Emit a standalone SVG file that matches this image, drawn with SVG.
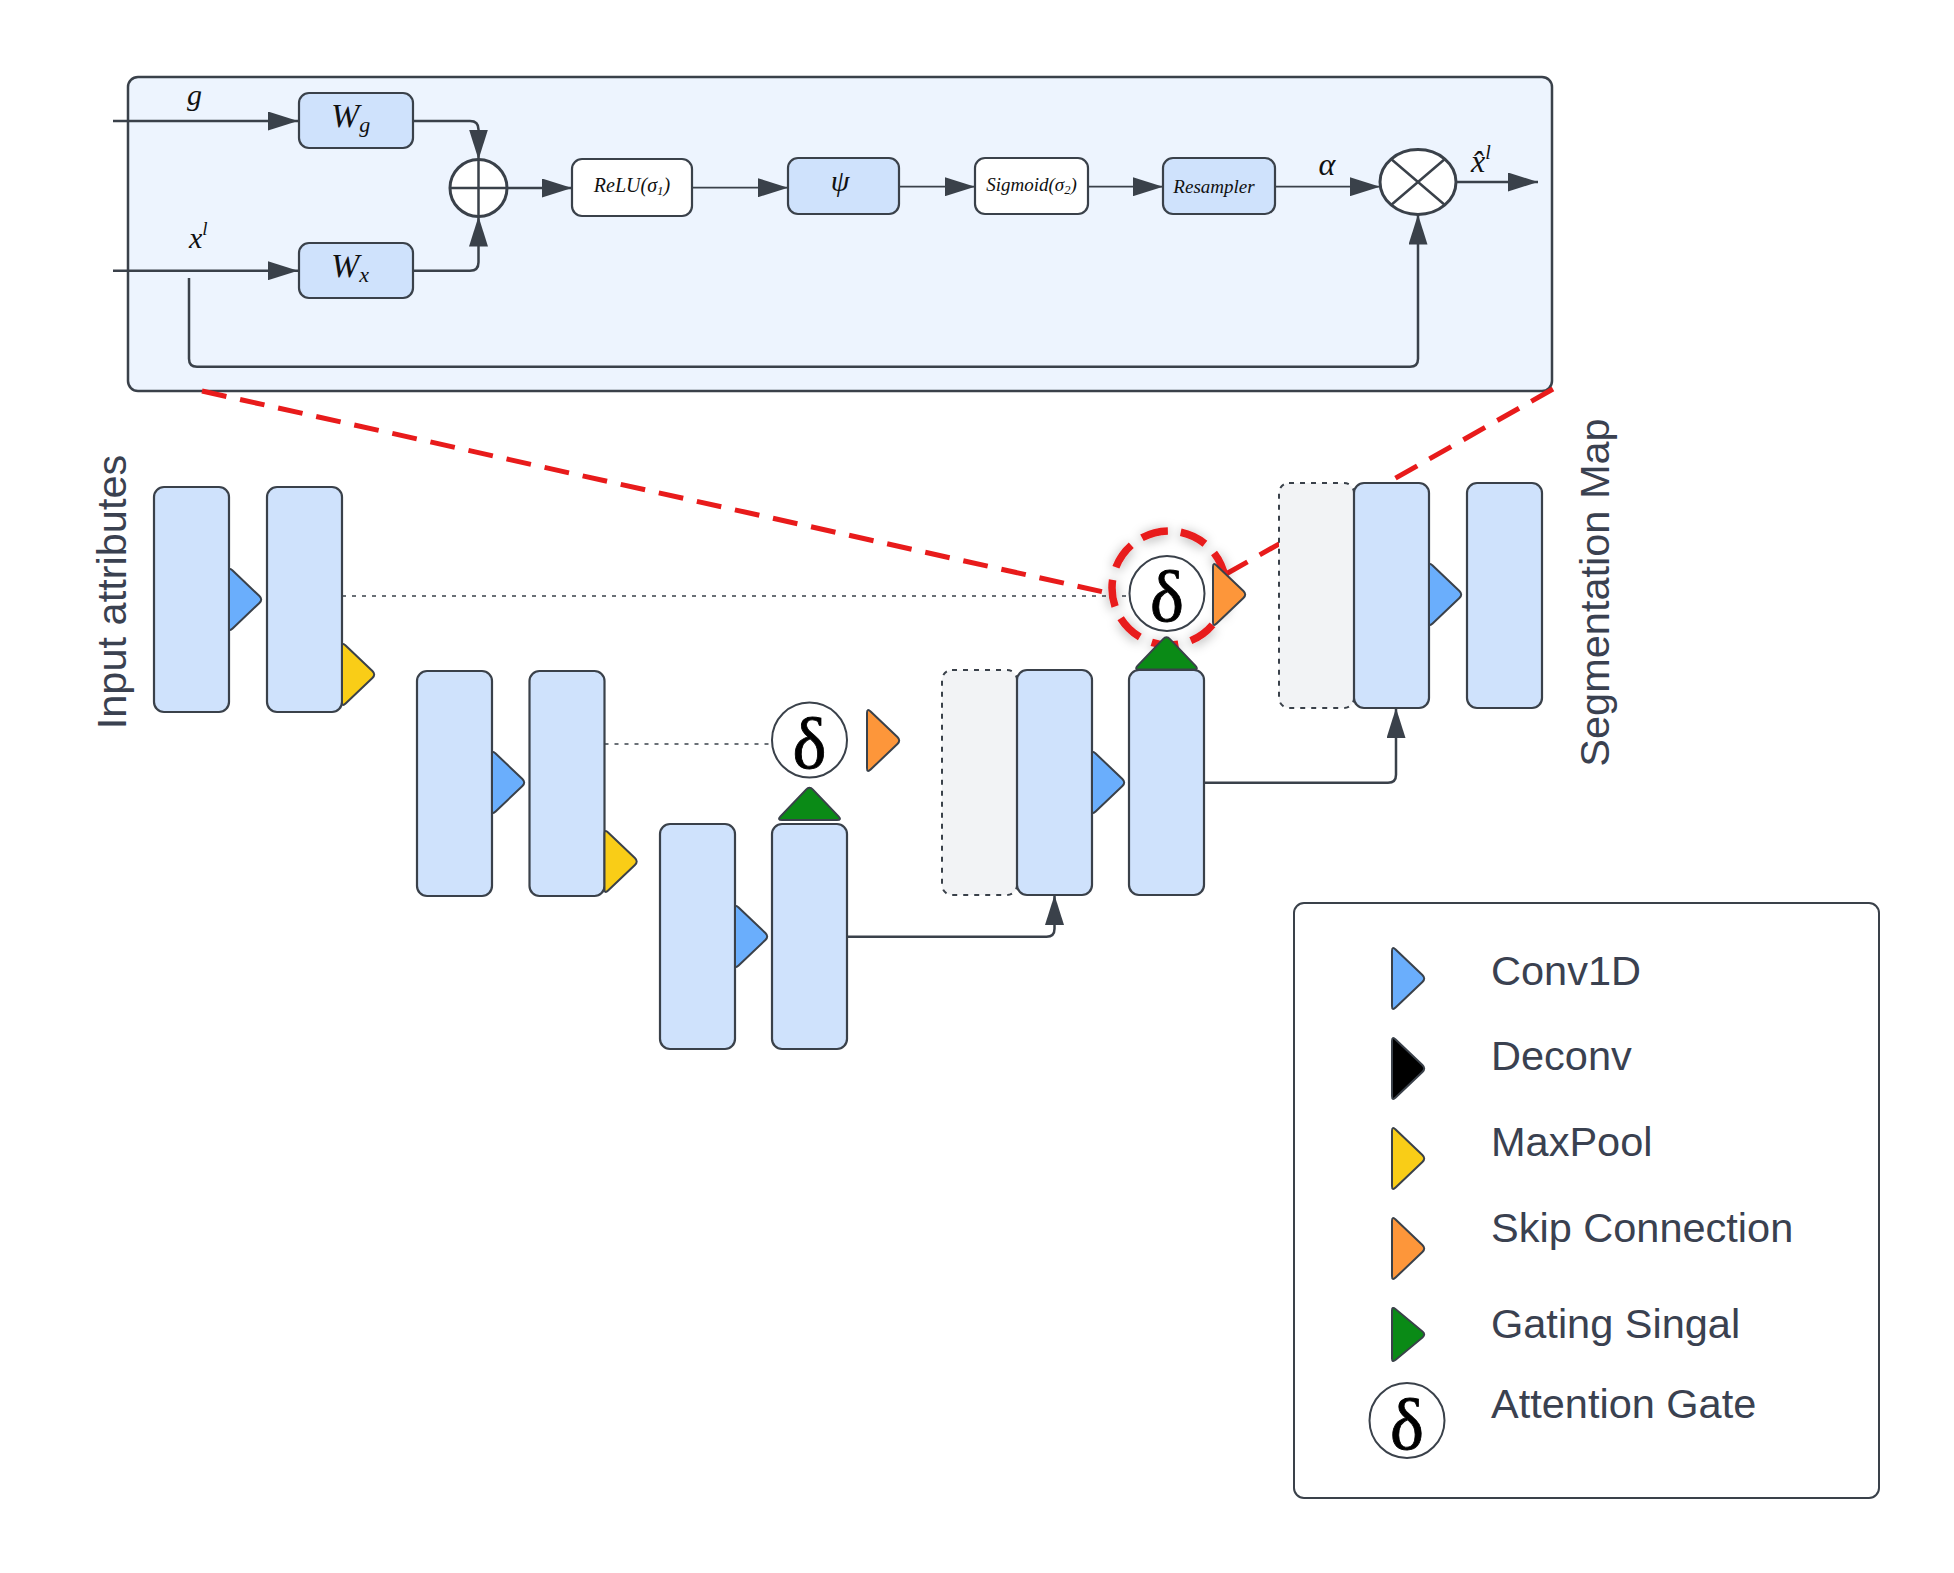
<svg xmlns="http://www.w3.org/2000/svg" xmlns:xlink="http://www.w3.org/1999/xlink" width="1954" height="1573" viewBox="0 0 1954 1573">
<style>
.panel{fill:#edf4fe;stroke:#3a414a;stroke-width:2.5}
.bx{fill:#cfe2fc;stroke:#3a414a;stroke-width:2.2}
.wbx{fill:#ffffff;stroke:#3a414a;stroke-width:2.2}
.op{fill:#ffffff;stroke:#3a414a;stroke-width:3}
.opl{fill:none;stroke:#3a414a;stroke-width:2.5}
.blk{fill:#cfe2fc;stroke:#3a414a;stroke-width:2.2}
.ghost{fill:#f2f3f5;stroke:#3a414a;stroke-width:2;stroke-dasharray:5 6}
.gate{fill:#ffffff;stroke:#3a414a;stroke-width:2}
.delta{font-family:"Liberation Serif","DejaVu Serif",serif;font-size:72px;fill:#000;stroke:#000;stroke-width:0.8;text-anchor:middle}
.lbl{font-family:"Liberation Sans",Arial,sans-serif;font-size:41.5px;fill:#3a4150}
.math{font-family:"Liberation Serif","DejaVu Serif",serif;font-style:italic;fill:#111}
.conn{fill:none;stroke:#3a414a;stroke-width:2.5}
.thin{fill:none;stroke:#3a414a;stroke-width:1.8}
.dot{fill:none;stroke:#3a414a;stroke-width:1.6;stroke-dasharray:4 6}
.red{fill:none;stroke:#e81b1b;stroke-width:5;stroke-dasharray:25 14}
.redc{fill:none;stroke:#e81b1b;stroke-width:7.5;stroke-dasharray:27 13}
.t{stroke:#3a414a;stroke-width:2;stroke-linejoin:round}
.tb{fill:#6aaefc}
.ty{fill:#f9cd17}
.to{fill:#fd963a}
.tg{fill:#0a8a16}
.tk{fill:#000000}
</style>
<defs>
<marker id="ah" viewBox="0 0 30 19" refX="30" refY="9.5" markerWidth="30" markerHeight="19" markerUnits="userSpaceOnUse" orient="auto">
<path d="M0,0 L30,9.5 L0,19 Z" fill="#3a414a"/>
</marker>
<path id="tri" d="M0,5 Q0,0 3.6,3.45 L30.4,29.05 Q34,32.5 30.4,35.95 L3.6,61.55 Q0,65 0,60 Z"/>
<filter id="sh" x="-40%" y="-40%" width="180%" height="180%">
<feDropShadow dx="0" dy="2" stdDeviation="6" flood-color="#000" flood-opacity="0.35"/>
</filter>
</defs>
<rect width="1954" height="1573" fill="#ffffff"/>

<g id="attention-panel">
<rect class="panel" x="128" y="77" width="1424" height="314" rx="10"/>
</g>

<g id="panel-nodes">
<g id="Wg">
<rect class="bx" x="299" y="93" width="114" height="55" rx="10"/>
<text class="math" x="331" y="126.7" font-size="34">W<tspan font-size="22" dy="5">g</tspan></text>
</g>
<g id="Wx">
<rect class="bx" x="299" y="243" width="114" height="55" rx="10"/>
<text class="math" x="331" y="276.7" font-size="34">W<tspan font-size="22" dy="5">x</tspan></text>
</g>
<g id="sum">
<circle class="op" cx="478.5" cy="188" r="28.5"/>
<path class="opl" d="M450,188 H507 M478.5,159.5 V216.5"/>
</g>
<g id="relu">
<rect class="wbx" x="572" y="159" width="120" height="57" rx="10"/>
<text class="math" x="632" y="191.7" font-size="20" text-anchor="middle">ReLU(σ<tspan font-size="13" dy="3">1</tspan><tspan dy="-3">)</tspan></text>
</g>
<g id="psi">
<rect class="bx" x="788" y="158" width="111" height="56" rx="10"/>
<text class="math" x="840" y="191" font-size="30" text-anchor="middle">ψ</text>
</g>
<g id="sigmoid">
<rect class="wbx" x="975" y="158" width="113" height="56" rx="10"/>
<text class="math" x="1031.5" y="191" font-size="19" text-anchor="middle">Sigmoid(σ<tspan font-size="12.5" dy="3">2</tspan><tspan dy="-3">)</tspan></text>
</g>
<g id="resampler">
<rect class="bx" x="1163" y="158" width="112" height="56" rx="10"/>
<text class="math" x="1214" y="193" font-size="19" text-anchor="middle">Resampler</text>
</g>
<g id="product">
<ellipse class="op" cx="1418" cy="182" rx="38" ry="32.5"/>
<path class="opl" d="M1391.1,159 L1444.9,205 M1444.9,159 L1391.1,205"/>
</g>
<g id="panel-labels">
<text class="math" x="187" y="105" font-size="30">g</text>
<text class="math" x="189" y="248" font-size="30">x<tspan font-size="19" dy="-13">l</tspan></text>
<text class="math" x="1327" y="175" font-size="32" text-anchor="middle">α</text>
<text class="math" x="1471" y="171.7" font-size="32">x̂<tspan font-size="20" dy="-13">l</tspan></text>
</g>
</g>

<g id="connectors">
<path class="conn" d="M113,121 H298" marker-end="url(#ah)"/>
<path class="conn" d="M113,270.7 H298" marker-end="url(#ah)"/>
<path class="conn" d="M413,121 H470 Q478.5,121 478.5,129.5 V159.5" marker-end="url(#ah)"/>
<path class="conn" d="M413,270.7 H470 Q478.5,270.7 478.5,262.2 V216.5" marker-end="url(#ah)"/>
<path class="conn" d="M507,188 H572" marker-end="url(#ah)"/>
<path class="thin" d="M692,187.7 H788" marker-end="url(#ah)"/>
<path class="thin" d="M899,186.7 H975" marker-end="url(#ah)"/>
<path class="thin" d="M1088,186.7 H1163" marker-end="url(#ah)"/>
<path class="thin" d="M1275,186.7 H1380" marker-end="url(#ah)"/>
<path class="conn" d="M1456,182 H1538" marker-end="url(#ah)"/>
<path class="conn" d="M189,278 V358.7 Q189,366.7 197,366.7 H1410 Q1418,366.7 1418,358.7 V214.5" marker-end="url(#ah)"/>
<path class="dot" d="M342,596 H1129"/>
<path class="dot" d="M604.5,744 H772"/>
<path class="conn" d="M847,936.7 H1046.5 Q1054.5,936.7 1054.5,928.7 V895" marker-end="url(#ah)"/>
<path class="conn" d="M1204,782.7 H1388 Q1396,782.7 1396,774.7 V708" marker-end="url(#ah)"/>
</g>

<g id="zoom-lines">
<path class="red" d="M202,391 L1108,593"/>
<path class="red" d="M1553,389 L1226,574"/>
</g>
<g id="zoom-ring">
<circle class="redc" cx="1169" cy="588" r="57" filter="url(#sh)"/>
</g>

<g id="network">
<g id="enc1">
<rect class="blk" x="154" y="487" width="75" height="225" rx="10"/>
<rect class="blk" x="267" y="487" width="75" height="225" rx="10"/>
<use href="#tri" x="229" y="567" class="t tb"/>
<use href="#tri" x="342" y="642" class="t ty"/>
</g>
<g id="enc2">
<rect class="blk" x="417" y="671" width="75" height="225" rx="10"/>
<rect class="blk" x="529.5" y="671" width="75" height="225" rx="10"/>
<use href="#tri" x="492" y="750" class="t tb"/>
<use href="#tri" x="604.5" y="829" class="t ty"/>
</g>
<g id="bottleneck">
<rect class="blk" x="660" y="824" width="75" height="225" rx="10"/>
<rect class="blk" x="772" y="824" width="75" height="225" rx="10"/>
<use href="#tri" x="735" y="904" class="t tb"/>
<use href="#tri" transform="translate(777,820) rotate(-90)" class="t tg"/>
</g>
<g id="dec1">
<rect class="ghost" x="942" y="670" width="75" height="225" rx="10"/>
<rect class="blk" x="1017" y="670" width="75" height="225" rx="10"/>
<rect class="blk" x="1129" y="670" width="75" height="225" rx="10"/>
<use href="#tri" x="1092" y="750" class="t tb"/>
<use href="#tri" transform="translate(1134,669.5) rotate(-90)" class="t tg"/>
</g>
<g id="dec2">
<rect class="ghost" x="1279" y="483" width="75" height="225" rx="10"/>
<rect class="blk" x="1354" y="483" width="75" height="225" rx="10"/>
<rect class="blk" x="1467" y="483" width="75" height="225" rx="10"/>
<use href="#tri" x="1429" y="562" class="t tb"/>
</g>
<g id="gate1">
<circle class="gate" cx="809.5" cy="740" r="37.5"/>
<text class="delta" x="809.5" y="768">δ</text>
<use href="#tri" x="867" y="708" class="t to"/>
</g>
<g id="gate2">
<circle class="gate" cx="1167" cy="593.5" r="37.5"/>
<text class="delta" x="1167" y="621">δ</text>
<use href="#tri" x="1213" y="562" class="t to"/>
</g>
<g id="labels">
<text class="lbl" transform="translate(126,592) rotate(-90)" text-anchor="middle">Input attributes</text>
<text class="lbl" transform="translate(1609,592.5) rotate(-90)" text-anchor="middle">Segmentation Map</text>
</g>
</g>

<g id="legend">
<rect x="1294" y="903" width="585" height="595" rx="10" fill="#ffffff" stroke="#3a414a" stroke-width="2"/>
<use href="#tri" x="1392" y="946" class="t tb"/>
<text class="lbl" x="1491" y="985">Conv1D</text>
<use href="#tri" x="1392" y="1036" class="t tk"/>
<text class="lbl" x="1491" y="1070">Deconv</text>
<use href="#tri" x="1392" y="1126" class="t ty"/>
<text class="lbl" x="1491" y="1156">MaxPool</text>
<use href="#tri" x="1392" y="1216" class="t to"/>
<text class="lbl" x="1491" y="1241.7">Skip Connection</text>
<use href="#tri" transform="translate(1392,1306) scale(1,0.877)" class="t tg"/>
<text class="lbl" x="1491" y="1338.3">Gating Singal</text>
<circle class="gate" cx="1407" cy="1420.5" r="37.5"/>
<text class="delta" x="1407" y="1448.5">δ</text>
<text class="lbl" x="1491" y="1418.3">Attention Gate</text>
</g>
</svg>
